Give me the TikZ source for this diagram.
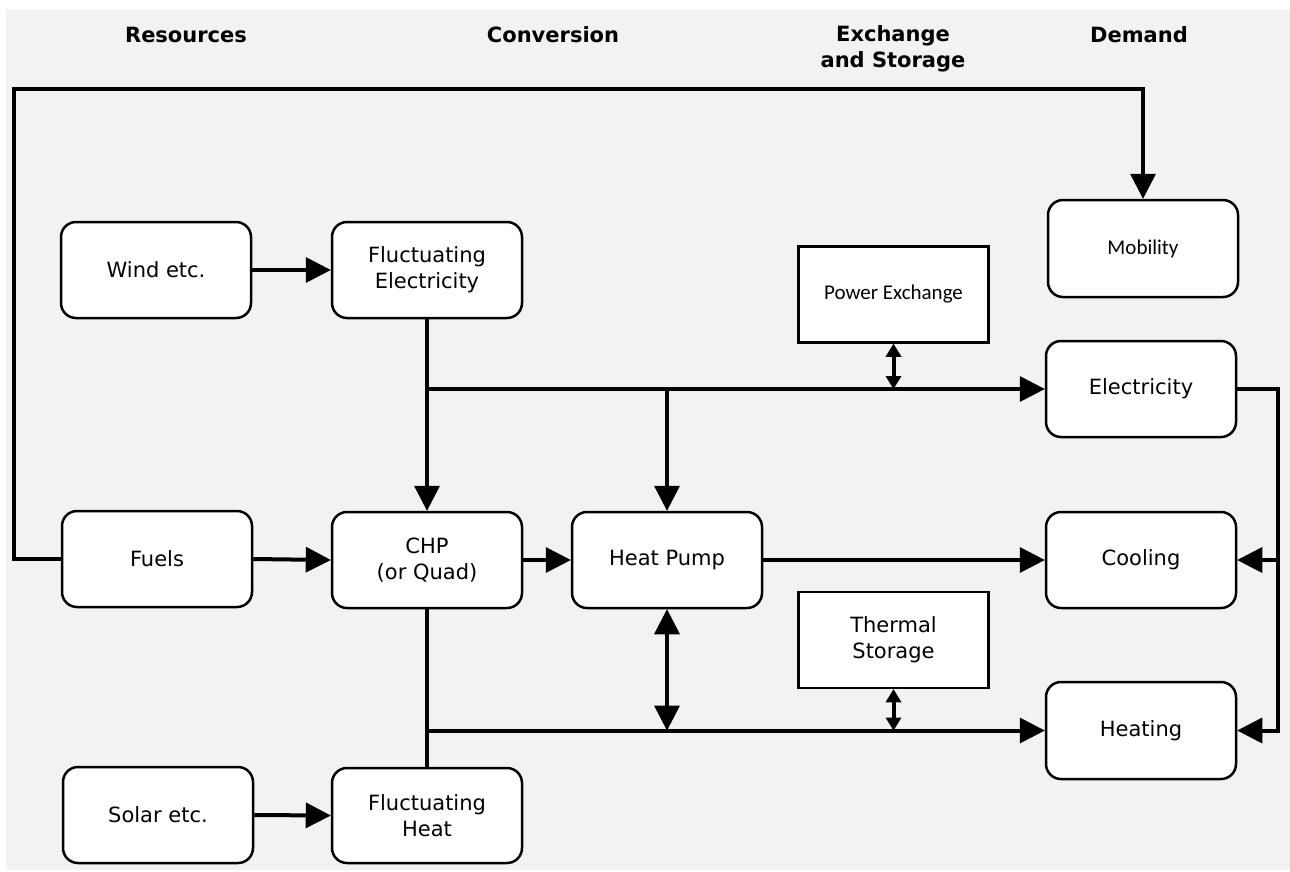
\documentclass[tikz,border=0pt]{standalone}
\usepackage{fontspec}
\setmainfont{DejaVu Sans}
\newfontfamily\carl{Carlito}
\usetikzlibrary{arrows.meta}
\definecolor{bggray}{HTML}{F2F2F2}
\begin{document}
\begin{tikzpicture}[x=1pt,y=-1pt,
  box/.style={draw, line width=2.5pt, fill=white, rounded corners=15pt,
    minimum width=190pt, minimum height=96pt, align=center, inner sep=0pt,
    font=\fontsize{21}{26}\selectfont},
  sqbox/.style={box, rounded corners=0pt},
  carlbox/.style={font=\carl\fontsize{21}{26}\selectfont},
  head/.style={font=\bfseries\fontsize{21}{26}\selectfont, align=center, inner sep=0pt},
  conn/.style={line width=4pt, line join=miter},
  arr/.style={conn, -{Triangle[length=25pt,width=26pt,line width=0pt]}},
  dbl/.style={conn, {Triangle[length=25pt,width=26pt,line width=0pt]}-{Triangle[length=25pt,width=26pt,line width=0pt]}},
  sdbl/.style={line width=4pt, {Triangle[length=13pt,width=16pt,line width=0pt]}-{Triangle[length=13pt,width=16pt,line width=0pt]}}
]
\useasboundingbox (0,0) rectangle (1290,871);
\fill[bggray] (6,9) rectangle (1290,870);

% headers
\node[head, anchor=base] (hres) at (186,42) {Resources};
\node[head, anchor=base] (hconv) at (553,42) {Conversion};
\node[head] (hex) at (893,49) {Exchange\\and Storage};
\node[head, anchor=base] (hdem) at (1139,42) {Demand};

% boxes
\node[box] (wind) at (156,270) {Wind etc.};
\node[box] (fe) at (427,270) {Fluctuating\\Electricity};
\node[sqbox, carlbox] (px) at (893.5,294.5) {Power Exchange};
\node[box, carlbox, minimum height=97pt] (mob) at (1143,248.5) {Mobility};
\node[box] (elec) at (1141,389) {Electricity};
\node[box] (fuels) at (157,559) {Fuels};
\node[box] (chp) at (427,560) {CHP\\(or Quad)};
\node[box] (hp) at (667,560) {Heat Pump};
\node[box] (cool) at (1141,560) {Cooling};
\node[sqbox] (ts) at (893.5,640) {Thermal\\Storage};
\node[box, minimum height=97pt] (heat) at (1141,730.5) {Heating};
\node[box] (solar) at (158,815) {Solar etc.};
\node[box, minimum height=95pt] (fh) at (427,815.5) {Fluctuating\\Heat};

% junction coordinates
\coordinate (lp1) at (14,559);
\coordinate (lp3) at (1143,89);
\coordinate (j1) at (427,389);
\coordinate (j2) at (667,389);
\coordinate (j3) at (893.5,389);
\coordinate (j4) at (427,730.5);
\coordinate (j5) at (667,730.5);
\coordinate (j6) at (893.5,730.5);
\coordinate (r1) at (1278,389);
\coordinate (r2) at (1278,730.5);
\coordinate (r3) at (1278,560);

% connectors
\draw[arr] (fuels.west) -- (lp1) |- (lp3) -- (mob.north);
\draw[arr] (wind.east) -- (fe.west);
\draw[arr] (fe.south) -- (chp.north);
\draw[arr] (j1) -- (elec.west);
\draw[arr] (j2) -- (hp.north);
\draw[sdbl] (px.south) -- (j3);
\draw[arr] (fuels.east) -- (chp.west);
\draw[arr] (chp.east) -- (hp.west);
\draw[arr] (hp.east) -- (cool.west);
\draw[conn] (chp.south) -- (fh.north);
\draw[arr] (j4) -- (heat.west);
\draw[dbl] (hp.south) -- (j5);
\draw[sdbl] (ts.south) -- (j6);
\draw[arr] (elec.east) -- (r1) -- (r2) -- (heat.east);
\draw[arr] (r3) -- (cool.east);
\draw[arr] (solar.east) -- (fh.west);
\end{tikzpicture}
\end{document}
